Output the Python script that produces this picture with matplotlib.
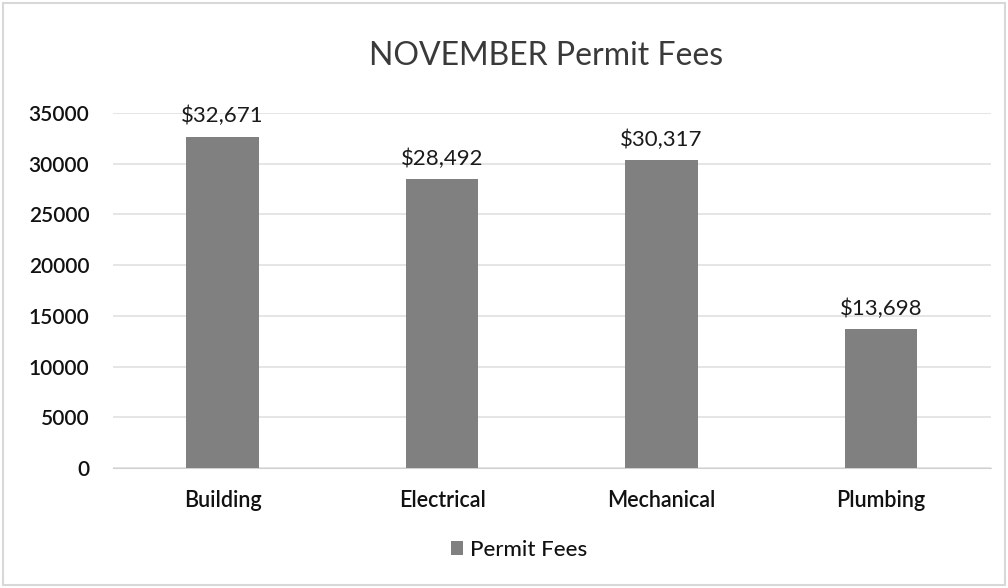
import matplotlib
matplotlib.use("Agg")
import matplotlib.pyplot as plt
from matplotlib.patches import Rectangle

categories = ["Building", "Electrical", "Mechanical", "Plumbing"]
values = [32671, 28492, 30317, 13698]
labels = ["$32,671", "$28,492", "$30,317", "$13,698"]
yticks = [0, 5000, 10000, 15000, 20000, 25000, 30000, 35000]

plt.rcParams['font.family'] = ['Lato', 'DejaVu Sans']

fig = plt.figure(figsize=(10.08, 5.88), dpi=100)
ax = fig.add_axes([0.112, 0.204, 0.871, 0.604])

x = list(range(len(categories)))
bars = ax.bar(x, values, width=0.33, color="#808080", label="Permit Fees", zorder=3)
for xi, v, lab in zip(x, values, labels):
    ax.text(xi, v + 1000, lab, ha="center", va="bottom", fontsize=16, color="#1a1a1a")

ax.set_xlim(-0.5, len(categories) - 0.5)
ax.set_ylim(0, 35000)
ax.set_yticks(yticks)
ax.set_yticklabels([str(t) for t in yticks], fontsize=15, fontweight="semibold", color="#111111")
ax.set_xticks(x)
ax.set_xticklabels(categories, fontsize=15.5, fontweight="semibold", color="#111111")
ax.tick_params(axis="y", length=0, pad=17)
ax.tick_params(axis="x", length=0, pad=16)
ax.grid(axis="y", color="#e0e0e0", linewidth=1.2, zorder=0)
for s in ["top", "right", "left"]:
    ax.spines[s].set_visible(False)
ax.spines["bottom"].set_color("#d0d0d0")

fig.text(0.542, 0.905, "NOVEMBER Permit Fees", ha="center", va="center", fontsize=23, color="#3a3a3a")

leg = fig.legend(handles=[bars], labels=["Permit Fees"], loc="center", bbox_to_anchor=(0.515, 0.065),
                 frameon=False, fontsize=16, handlelength=0.55, handleheight=0.55, handletextpad=0.3,
                 prop={"weight": "medium", "size": 16})
for t in leg.get_texts():
    t.set_color("#111111")

fig.patches.append(Rectangle((0.003, 0.005), 0.994, 0.99, transform=fig.transFigure,
                             fill=False, edgecolor="#d8d8d8", linewidth=1.5))

fig.savefig("out.png", dpi=100, facecolor="white")
